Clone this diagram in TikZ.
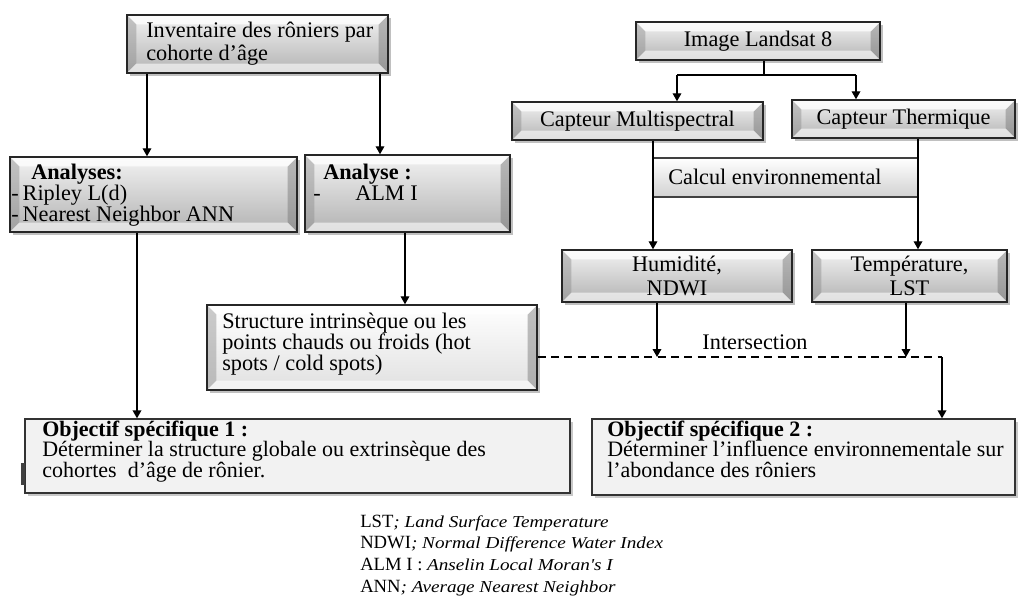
\documentclass[tikz,border=0pt]{standalone}
\usepackage{fontspec}
\setmainfont{Liberation Serif}
\newfontfamily\legit{Liberation Serif}[FakeStretch=1.15]
\usetikzlibrary{arrows.meta,fit,shadows}
\begin{document}
\begin{tikzpicture}[x=0.75pt,y=-0.75pt,
  bevel/.style={draw=black!85, line width=1.1pt, inner sep=0pt, top color=black!5, bottom color=black!30,
    drop shadow={shadow xshift=2.5pt, shadow yshift=-2.5pt, opacity=0.35, fill=black!70},
    path picture={
      \fill[black!45, fill opacity=0.45] (path picture bounding box.south west) -- (path picture bounding box.north west) -- ++(7pt,-7pt) -- ([shift={(7pt,7pt)}]path picture bounding box.south west) -- cycle;
      \fill[black!55, fill opacity=0.45] (path picture bounding box.south east) -- (path picture bounding box.north east) -- ++(-7pt,-7pt) -- ([shift={(-7pt,7pt)}]path picture bounding box.south east) -- cycle;
      \fill[white, fill opacity=0.75] (path picture bounding box.north west) -- (path picture bounding box.north east) -- ++(-7pt,-7pt) -- ([shift={(7pt,-7pt)}]path picture bounding box.north west) -- cycle;
      \fill[white, fill opacity=0.6] (path picture bounding box.south west) -- (path picture bounding box.south east) -- ++(-7pt,7pt) -- ([shift={(7pt,7pt)}]path picture bounding box.south west) -- cycle;
    }},
  lightbevel/.style={bevel, top color=white, bottom color=black!12},
  objbox/.style={draw=black!80, line width=1pt, inner sep=0pt, fill=black!5,
    drop shadow={shadow xshift=2.5pt, shadow yshift=-2.5pt, opacity=0.3, fill=black!70}},
  calcbox/.style={draw=black!75, line width=1pt, inner sep=0pt, top color=white, bottom color=black!18},
  txt/.style={inner sep=0pt, font=\fontsize{16.7}{18}\selectfont},
  otxt/.style={inner sep=0pt, font=\fontsize{16.5}{18}\selectfont},
  leg/.style={inner sep=0pt, font=\fontsize{14}{16}\selectfont},
  arr/.style={line width=1pt, -{Triangle[length=6pt,width=6.5pt]}},
  ln/.style={line width=1pt}
]
\useasboundingbox[fill=white] (0,0) rectangle (1018,599);

% boxes
\node[bevel, fit={(127,15) (388,73)}] (A) {};
\node[bevel, fit={(10,157) (297,232)}] (B) {};
\node[bevel, fit={(305,155) (510,232)}] (C) {};
\node[lightbevel, fit={(207,305) (537,390)}] (S) {};
\node[bevel, fit={(636,22) (880,60)}] (L) {};
\node[bevel, fit={(512,102) (763,140)}] (M) {};
\node[bevel, fit={(792,100) (1015,138)}] (T) {};
\node[calcbox, fit={(653,158) (918,197)}] (K) {};
\node[bevel, fit={(562,250) (792,302)}] (H) {};
\node[bevel, fit={(812,250) (1007,302)}] (P) {};
\node[objbox, fit={(25,419) (570,493)}] (O1) {};
\node[objbox, fit={(592,419) (1015,495)}] (O2) {};
\fill[black!75] (21,463) rectangle (25,485);

% texts
\node[txt, anchor=base west] (tA1) at (146,38) {Inventaire des rôniers par};
\node[txt, anchor=base west] (tA2) at (146,61) {cohorte d'âge};
\node[txt, anchor=base west] (tB1) at (31,180) {\textbf{Analyses:}};
\node[txt, anchor=base west] (tB2) at (11,201) {-\hspace{3pt}Ripley L(d)};
\node[txt, anchor=base west] (tB3) at (11,222) {-\hspace{3pt}Nearest Neighbor ANN};
\node[txt, anchor=base west] (tC1) at (323,180) {\textbf{Analyse :}};
\node[txt, anchor=base west] (tC2) at (313,201) {-};
\node[txt, anchor=base west] (tC3) at (355,201) {ALM I};
\node[txt, anchor=base west] (tS1) at (222,328) {Structure intrinsèque ou les};
\node[txt, anchor=base west] (tS2) at (222,349) {points chauds ou froids (hot};
\node[txt, anchor=base west] (tS3) at (222,370) {spots / cold spots)};
\node[txt] (tL) at (L.center) {Image Landsat 8};
\node[txt] (tM) at (M.center) {Capteur Multispectral};
\node[txt] (tT) at (T.center) {Capteur Thermique};
\node[txt, anchor=west] (tK) at (668,177) {Calcul environnemental};
\node[txt, align=center] (tH) at (H.center) {Humidité,\\NDWI};
\node[txt, align=center] (tP) at (P.center) {Température,\\LST};
\node[txt] (tI) at (755,342) {Intersection};
\node[otxt, anchor=base west] (tO11) at (42,436) {\textbf{Objectif spécifique 1 :}};
\node[otxt, anchor=base west] (tO12) at (42,456) {Déterminer la structure globale ou extrinsèque des};
\node[otxt, anchor=base west] (tO13) at (42,477) {cohortes \ d'âge de rônier.};
\node[otxt, anchor=base west] (tO21) at (607,436) {\textbf{Objectif spécifique 2 :}};
\node[otxt, anchor=base west] (tO22) at (607,456) {Déterminer l'influence environnementale sur};
\node[otxt, anchor=base west] (tO23) at (607,477) {l'abondance des rôniers};

% legend
\node[leg, anchor=base west] (g1) at (360,527) {LST{\legit\itshape\fontsize{12.5}{14}\selectfont ; Land Surface Temperature}};
\node[leg, anchor=base west] (g2) at (360,548) {NDWI{\legit\itshape\fontsize{12.5}{14}\selectfont ; Normal Difference Water Index}};
\node[leg, anchor=base west] (g3) at (360,570) {ALM I : {\legit\itshape\fontsize{12.5}{14}\selectfont Anselin Local Moran's I}};
\node[leg, anchor=base west] (g4) at (360,592) {ANN{\legit\itshape\fontsize{12.5}{14}\selectfont ; Average Nearest Neighbor}};

% column coordinates
\coordinate (x1) at (147,0);
\coordinate (x2) at (380,0);
\coordinate (x3) at (137,0);
\coordinate (x4) at (405,0);
\coordinate (x5) at (764,0);
\coordinate (x6) at (677,0);
\coordinate (x7) at (856,0);
\coordinate (x8) at (653,0);
\coordinate (x9) at (918,0);
\coordinate (x10) at (657,0);
\coordinate (x11) at (906,0);
\coordinate (x12) at (942,0);
\coordinate (dy) at (0,357);
\coordinate (by) at (0,75);

% connectors
\draw[arr] (A.south -| x1) -- (B.north -| x1);
\draw[arr] (A.south -| x2) -- (C.north -| x2);
\draw[arr] (B.south -| x3) -- (O1.north -| x3);
\draw[arr] (C.south -| x4) -- (S.north -| x4);
\draw[ln] (L.south -| x5) -- (by -| x5);
\draw[ln] (by -| x6) -- (by -| x7);
\draw[arr] (by -| x6) -- (M.north -| x6);
\draw[arr] (by -| x7) -- (T.north -| x7);
\draw[arr] (M.south -| x8) -- (H.north -| x8);
\draw[arr] (T.south -| x9) -- (P.north -| x9);
\coordinate (hd) at (dy -| x10);
\coordinate (pd) at (dy -| x11);
\coordinate (jd) at (dy -| x12);
\draw[arr] (H.south -| x10) -- (hd);
\draw[arr] (P.south -| x11) -- (pd);
\draw[line width=1pt, dash pattern=on 6pt off 4pt] (S.east |- dy) -- (jd);
\draw[arr] (jd) -- (O2.north -| x12);
\end{tikzpicture}
\end{document}
